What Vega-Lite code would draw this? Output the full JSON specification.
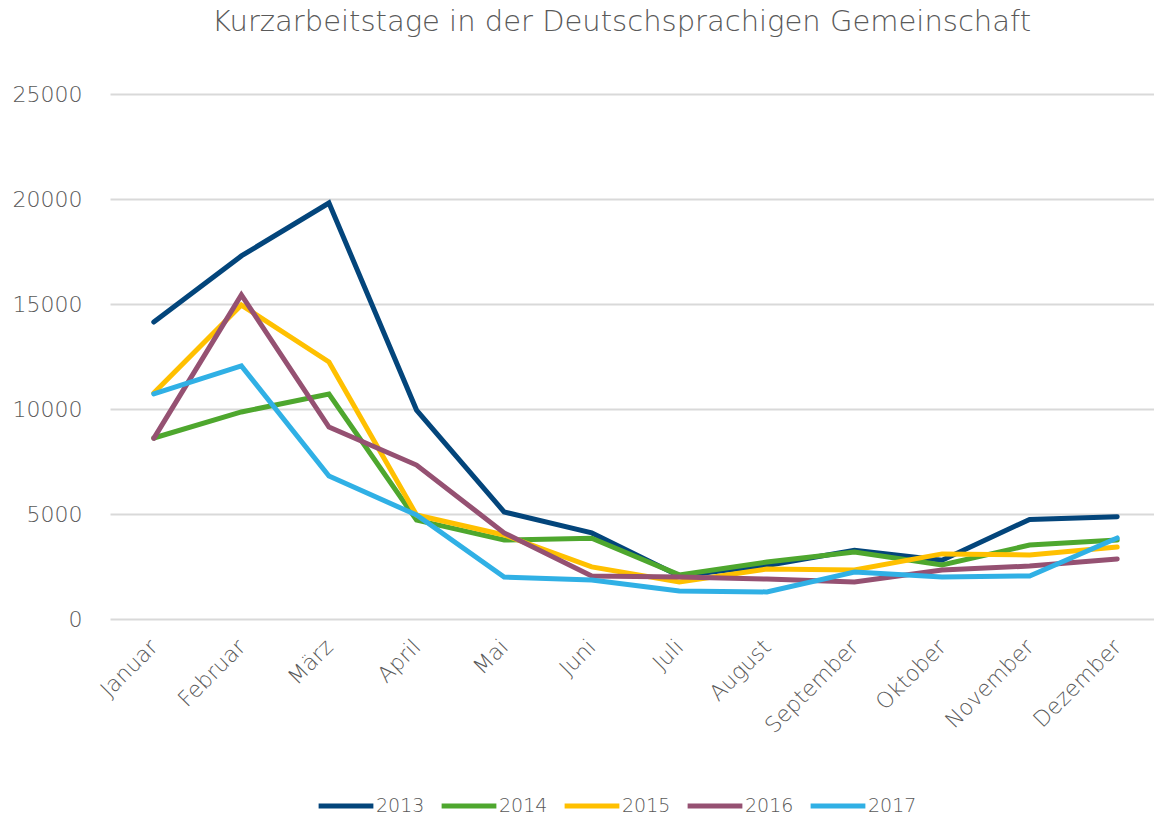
{
  "$schema": "https://vega.github.io/schema/vega-lite/v6.json",
  "width": 1051,
  "height": 525,
  "autosize": {"type": "none"},
  "padding": {"left": 110, "top": 94, "right": 0, "bottom": 199},
  "background": "white",
  "title": {
    "text": "Kurzarbeitstage in der Deutschsprachigen Gemeinschaft",
    "font": "DejaVu Sans",
    "fontSize": 29,
    "fontWeight": 200,
    "color": "#595959",
    "anchor": "middle",
    "offset": 46,
    "dx": -14
  },
  "config": {
    "view": {"stroke": null},
    "font": "DejaVu Sans"
  },
  "data": {
    "values": [
      {"Monat": "Januar", "Jahr": "2013", "Tage": 14140},
      {"Monat": "Februar", "Jahr": "2013", "Tage": 17290},
      {"Monat": "März", "Jahr": "2013", "Tage": 19810},
      {"Monat": "April", "Jahr": "2013", "Tage": 9950},
      {"Monat": "Mai", "Jahr": "2013", "Tage": 5100},
      {"Monat": "Juni", "Jahr": "2013", "Tage": 4100},
      {"Monat": "Juli", "Jahr": "2013", "Tage": 2050},
      {"Monat": "August", "Jahr": "2013", "Tage": 2550},
      {"Monat": "September", "Jahr": "2013", "Tage": 3270},
      {"Monat": "Oktober", "Jahr": "2013", "Tage": 2800},
      {"Monat": "November", "Jahr": "2013", "Tage": 4740},
      {"Monat": "Dezember", "Jahr": "2013", "Tage": 4870},

      {"Monat": "Januar", "Jahr": "2014", "Tage": 8620},
      {"Monat": "Februar", "Jahr": "2014", "Tage": 9860},
      {"Monat": "März", "Jahr": "2014", "Tage": 10710},
      {"Monat": "April", "Jahr": "2014", "Tage": 4710},
      {"Monat": "Mai", "Jahr": "2014", "Tage": 3760},
      {"Monat": "Juni", "Jahr": "2014", "Tage": 3850},
      {"Monat": "Juli", "Jahr": "2014", "Tage": 2100},
      {"Monat": "August", "Jahr": "2014", "Tage": 2710},
      {"Monat": "September", "Jahr": "2014", "Tage": 3190},
      {"Monat": "Oktober", "Jahr": "2014", "Tage": 2570},
      {"Monat": "November", "Jahr": "2014", "Tage": 3520},
      {"Monat": "Dezember", "Jahr": "2014", "Tage": 3760},

      {"Monat": "Januar", "Jahr": "2015", "Tage": 10760},
      {"Monat": "Februar", "Jahr": "2015", "Tage": 14950},
      {"Monat": "März", "Jahr": "2015", "Tage": 12240},
      {"Monat": "April", "Jahr": "2015", "Tage": 4950},
      {"Monat": "Mai", "Jahr": "2015", "Tage": 4000},
      {"Monat": "Juni", "Jahr": "2015", "Tage": 2480},
      {"Monat": "Juli", "Jahr": "2015", "Tage": 1760},
      {"Monat": "August", "Jahr": "2015", "Tage": 2380},
      {"Monat": "September", "Jahr": "2015", "Tage": 2330},
      {"Monat": "Oktober", "Jahr": "2015", "Tage": 3100},
      {"Monat": "November", "Jahr": "2015", "Tage": 3050},
      {"Monat": "Dezember", "Jahr": "2015", "Tage": 3430},

      {"Monat": "Januar", "Jahr": "2016", "Tage": 8600},
      {"Monat": "Februar", "Jahr": "2016", "Tage": 15430},
      {"Monat": "März", "Jahr": "2016", "Tage": 9140},
      {"Monat": "April", "Jahr": "2016", "Tage": 7330},
      {"Monat": "Mai", "Jahr": "2016", "Tage": 4100},
      {"Monat": "Juni", "Jahr": "2016", "Tage": 2050},
      {"Monat": "Juli", "Jahr": "2016", "Tage": 2000},
      {"Monat": "August", "Jahr": "2016", "Tage": 1900},
      {"Monat": "September", "Jahr": "2016", "Tage": 1760},
      {"Monat": "Oktober", "Jahr": "2016", "Tage": 2330},
      {"Monat": "November", "Jahr": "2016", "Tage": 2520},
      {"Monat": "Dezember", "Jahr": "2016", "Tage": 2860},

      {"Monat": "Januar", "Jahr": "2017", "Tage": 10720},
      {"Monat": "Februar", "Jahr": "2017", "Tage": 12050},
      {"Monat": "März", "Jahr": "2017", "Tage": 6810},
      {"Monat": "April", "Jahr": "2017", "Tage": 4950},
      {"Monat": "Mai", "Jahr": "2017", "Tage": 2000},
      {"Monat": "Juni", "Jahr": "2017", "Tage": 1860},
      {"Monat": "Juli", "Jahr": "2017", "Tage": 1330},
      {"Monat": "August", "Jahr": "2017", "Tage": 1290},
      {"Monat": "September", "Jahr": "2017", "Tage": 2240},
      {"Monat": "Oktober", "Jahr": "2017", "Tage": 2000},
      {"Monat": "November", "Jahr": "2017", "Tage": 2050},
      {"Monat": "Dezember", "Jahr": "2017", "Tage": 3860}
    ]
  },
  "mark": {"type": "line", "strokeWidth": 5, "strokeCap": "round"},
  "encoding": {
    "x": {
      "field": "Monat",
      "type": "ordinal",
      "sort": ["Januar", "Februar", "März", "April", "Mai", "Juni", "Juli", "August", "September", "Oktober", "November", "Dezember"],
      "scale": {"type": "point", "padding": 0.5},
      "axis": {
        "title": null,
        "domain": false,
        "ticks": false,
        "labelAngle": -45,
        "labelAlign": "right",
        "labelBaseline": "middle",
        "labelFontSize": 22,
        "labelFontWeight": 200,
        "labelColor": "#595959",
        "labelFont": "DejaVu Sans",
        "labelPadding": 24
      }
    },
    "y": {
      "field": "Tage",
      "type": "quantitative",
      "scale": {"domain": [0, 25000]},
      "axis": {
        "title": null,
        "domain": false,
        "ticks": false,
        "values": [0, 5000, 10000, 15000, 20000, 25000],
        "format": "d",
        "labelFontSize": 22,
        "labelFontWeight": 200,
        "labelColor": "#595959",
        "labelFont": "DejaVu Sans",
        "labelPadding": 28,
        "gridColor": "#d9d9d9",
        "gridWidth": 2
      }
    },
    "color": {
      "field": "Jahr",
      "type": "nominal",
      "scale": {
        "domain": ["2013", "2014", "2015", "2016", "2017"],
        "range": ["#03457B", "#4EA72E", "#FFC000", "#955172", "#30B0E5"]
      },
      "legend": {
        "title": null,
        "orient": "none",
        "direction": "horizontal",
        "legendX": 206,
        "legendY": 682,
        "symbolType": "stroke",
        "symbolSize": 3000,
        "symbolStrokeWidth": 5,
        "labelFontSize": 19,
        "labelFontWeight": 200,
        "labelColor": "#595959",
        "labelFont": "DejaVu Sans",
        "labelOffset": 0,
        "columnPadding": 6
      }
    }
  }
}
